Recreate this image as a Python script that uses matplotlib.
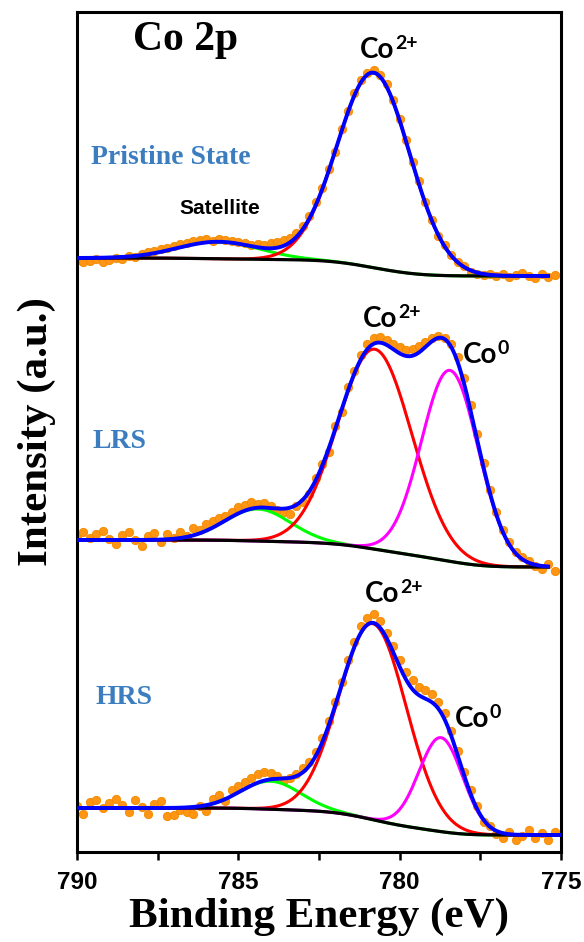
import numpy as np
import matplotlib.pyplot as plt

# measured points, 0.2 eV steps from 790 eV down (stacked, arbitrary units)
energy = np.round(np.arange(790.0, 775.1, -0.2), 1)
pristine_counts = [592, 590, 591, 593, 590, 592, 594, 593, 596, 595, 598, 600, 601, 603, 604,
                   606, 608, 609, 611, 612, 613, 611, 613, 612, 611, 610, 609, 607, 608, 607,
                   609, 610, 612, 614, 619, 626, 636, 650, 664, 683, 700, 723, 741, 759, 772,
                   779, 782, 777, 768, 752, 733, 712, 690, 671, 650, 632, 616, 607, 597, 590,
                   586, 580, 578, 577, 578, 576, 578, 575, 577, 579, 576, 574, 578, 575, 577]
lrs_counts = [316, 320, 314, 318, 321, 313, 308, 317, 320, 312, 306, 316, 319, 310, 318,
              314, 320, 316, 324, 322, 328, 331, 334, 336, 340, 345, 347, 350, 348, 349,
              346, 342, 340, 338, 346, 350, 358, 374, 388, 400, 426, 440, 465, 481, 497,
              508, 514, 515, 512, 508, 505, 502, 503, 506, 510, 514, 516, 514, 508, 495,
              474, 447, 418, 389, 362, 340, 322, 310, 300, 295, 291, 286, 283, 288, 281]
hrs_counts = [46, 38, 50, 52, 44, 49, 53, 47, 40, 52, 45, 38, 48, 51, 36,
              37, 42, 40, 38, 46, 41, 53, 57, 51, 62, 66, 70, 74, 78, 80,
              79, 76, 72, 74, 78, 84, 90, 100, 114, 131, 150, 170, 192, 210, 226,
              234, 238, 231, 219, 206, 192, 180, 172, 165, 162, 158, 150, 139, 121, 101,
              80, 62, 46, 30, 26, 18, 14, 20, 12, 16, 22, 14, 19, 12, 20]

# fitted components: (centre eV, height, FWHM eV)
pristine_co2 = (780.8, 195, 2.65)
pristine_sat = (785.6, 17, 3.0)
lrs_co2 = (780.77, 200, 2.7)
lrs_co0 = (778.44, 191, 2.08)
lrs_sat = (784.4, 32, 2.4)
hrs_co2 = (780.83, 196, 2.45)
hrs_co0 = (778.72, 94, 1.6)
hrs_sat = (784.0, 28, 2.2)

# Shirley background end levels (low BE side, high BE side)
pristine_bg = (576, 594)
lrs_bg = (285, 312)
hrs_bg = (17, 44)


def gauss(e, c, h, fwhm):
    return h * np.exp(-4 * np.log(2) * (e - c) ** 2 / fwhm ** 2)


def shirley(e, total, low, high):
    cum = np.cumsum(total)
    return low + (high - low) * cum / cum[-1]


fig = plt.figure(figsize=(5.84, 9.42), dpi=100)
ax = fig.add_axes([77 / 584, 1 - 852 / 942, 484 / 584, 840 / 942])


def draw_state(counts, peaks, bg_levels, e_end):
    ax.plot(energy, counts, 'o', ms=6, mfc='#ff9512', mec='#f08a00', mew=0.6, zorder=1)
    e = np.linspace(e_end, 790.0, 800)
    comps = {col: gauss(e, *p) for col, p in peaks}
    total = sum(comps.values())
    bg = shirley(e, total, *bg_levels)
    for col in ['#00ff00', '#ff0000', '#ff00ff']:
        if col in comps:
            ax.plot(e, comps[col] + bg, color=col, lw=2.2, zorder=2)
    ax.plot(e, bg, color='black', lw=2.3, zorder=3)
    ax.plot(e, total + bg, color='#0000ff', lw=2.8, zorder=4)


draw_state(pristine_counts, [('#ff0000', pristine_co2), ('#00ff00', pristine_sat)],
           pristine_bg, 775.4)
draw_state(lrs_counts, [('#ff0000', lrs_co2), ('#ff00ff', lrs_co0), ('#00ff00', lrs_sat)],
           lrs_bg, 775.4)
draw_state(hrs_counts, [('#ff0000', hrs_co2), ('#ff00ff', hrs_co0), ('#00ff00', hrs_sat)],
           hrs_bg, 775.0)

ax.set_xlim(790, 775)
ax.set_ylim(0, 840)
ax.set_xticks([790, 785, 780, 775])
ax.set_xticks([787.5, 782.5, 777.5], minor=True)
ax.set_yticks([])
for s in ax.spines.values():
    s.set_linewidth(2.2)
ax.tick_params(axis='x', which='both', direction='out', width=1.8, length=6, pad=8)
for lab in ax.get_xticklabels():
    lab.set_fontfamily('Liberation Sans')
    lab.set_fontweight('bold')
    lab.set_fontsize(17.5)

serif = dict(family='Liberation Serif', weight='bold')
ax.set_xlabel('Binding Energy (eV)', fontsize=31, labelpad=2, **serif)
ax.set_ylabel('Intensity (a.u.)', fontsize=31, labelpad=15, **serif)

ax.text(786.62, 812, 'Co 2p', fontsize=30, ha='center', va='center', **serif)
state_col = '#3b7dbf'
ax.text(787.09, 694, 'Pristine State', fontsize=20, color=state_col, ha='center', va='center', **serif)
ax.text(788.67, 411, 'LRS', fontsize=20, color=state_col, ha='center', va='center', **serif)
ax.text(788.54, 155, 'HRS', fontsize=20, color=state_col, ha='center', va='center', **serif)
ax.text(785.57, 643, 'Satellite', fontsize=15, ha='center', va='center',
        family='Liberation Sans', weight='bold')


def co_label(x, y, charge):
    t = ax.text(x, y, 'Co', fontsize=20, ha='left', va='baseline', family='Lato', weight='bold')
    ax.annotate(charge, xy=(1, 1), xycoords=t, xytext=(0.5, 1.5), textcoords='offset points',
                fontsize=14, ha='left', va='top', family='Lato', weight='bold')


co_label(781.23, 794, '2+')
co_label(781.14, 525, '2+')
co_label(778.04, 489, '0')
co_label(781.08, 250, '2+')
co_label(778.29, 125, '0')

fig.savefig('out.png', dpi=100)
